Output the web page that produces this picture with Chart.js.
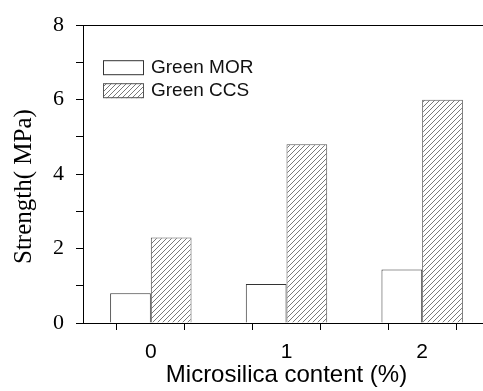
<!DOCTYPE html>
<html><head><meta charset="utf-8">
<script src="https://cdn.jsdelivr.net/npm/chart.js@4/dist/chart.umd.min.js"></script>
<style>html,body{margin:0;padding:0;overflow:hidden;background:#fff}#wrap{width:500px;height:391px;position:relative}</style>
</head><body><div id="wrap"><canvas id="c" width="500" height="391"></canvas></div>
<script>
const categories = ['0', '1', '2'];
const seriesNames = ['Green MOR', 'Green CCS'];
const greenMOR = [0.8, 1.05, 1.44];
const greenCCS = [2.3, 4.8, 6.0];
const yTickLabels = [0, 2, 4, 6, 8];
const xTitle = 'Microsilica content (%)';
const yTitle = 'Strength( MPa)    ';

const canvas = document.getElementById('c');
const ctx = canvas.getContext('2d');

function makeHatch() {
  const t = document.createElement('canvas');
  t.width = 5; t.height = 5;
  const g = t.getContext('2d');
  g.fillStyle = '#fff'; g.fillRect(0, 0, 5, 5);
  g.strokeStyle = '#6a6a6a'; g.lineWidth = 0.9;
  g.beginPath();
  g.moveTo(-1, 6); g.lineTo(6, -1);
  g.moveTo(-1, 1); g.lineTo(1, -1);
  g.moveTo(4, 6); g.lineTo(6, 4);
  g.stroke();
  return ctx.createPattern(t, 'repeat');
}
const hatch = makeHatch();

const frameAndLegend = {
  id: 'frameAndLegend',
  afterDraw(chart) {
    const c = chart.ctx, a = chart.chartArea;
    // top frame line
    c.save();
    c.strokeStyle = '#000'; c.lineWidth = 1;
    c.beginPath();
    c.moveTo(a.left, Math.round(a.top) + 0.5);
    c.lineTo(a.right, Math.round(a.top) + 0.5);
    c.stroke();
    c.restore();
    // inline legend
    const x0 = a.left + 20, y0 = a.top + 35;
    chart.data.datasets.forEach((ds, i) => {
      const y = y0 + i * 23;
      c.save();
      c.fillStyle = ds.backgroundColor;
      c.fillRect(x0, y, 41, 15);
      c.strokeStyle = ds.borderColor; c.lineWidth = 1;
      c.strokeRect(x0 + 0.5, y + 0.5, 40, 14);
      c.fillStyle = '#111';
      c.font = '19px "Liberation Sans"';
      c.textBaseline = 'middle';
      c.fillText(ds.label, x0 + 48, y + 8);
      c.restore();
    });
  }
};

new Chart(ctx, {
  type: 'bar',
  data: {
    datasets: [
      { label: seriesNames[0], data: categories.map((c, i) => ({ x: i, y: greenMOR[i] })),
        backgroundColor: '#ffffff', borderColor: '#333', borderWidth: 1 },
      { label: seriesNames[1], data: categories.map((c, i) => ({ x: i, y: greenCCS[i] })),
        backgroundColor: hatch, borderColor: '#555', borderWidth: 1 }
    ]
  },
  plugins: [frameAndLegend],
  options: {
    responsive: false,
    devicePixelRatio: 1,
    animation: false,
    layout: { padding: { top: 22, right: 8, bottom: 0, left: 0 } },
    datasets: { bar: { categoryPercentage: 1.2, barPercentage: 1.0 } },
    plugins: { legend: { display: false }, tooltip: { enabled: false } },
    scales: {
      x: {
        type: 'linear', position: 'bottom', min: -0.5, max: 2.5, offset: false,
        ticks: { stepSize: 0.5, autoSkip: false, maxRotation: 0,
          callback: v => Number.isInteger(v) ? categories[v] : '',
          font: { family: 'Liberation Sans', size: 21 }, color: '#000', padding: 10 },
        grid: { drawOnChartArea: false, drawTicks: true, tickLength: 7, color: '#000' },
        border: { display: true, color: '#000', width: 1 },
        title: { display: true, text: xTitle, color: '#000',
          font: { family: 'Liberation Sans', size: 24 }, padding: { top: 0, bottom: 1 } },
        afterFit: s => { s.height = 68; }
      },
      y: {
        min: 0, max: 8,
        ticks: { stepSize: 1, autoSkip: false,
          callback: v => yTickLabels.includes(v) ? String(v) : '',
          font: { family: 'Liberation Serif', size: 22 }, color: '#000', padding: 12 },
        grid: { drawOnChartArea: false, tickLength: 7, color: '#000' },
        border: { display: true, color: '#000', width: 1 },
        title: { display: true, text: yTitle, color: '#000',
          font: { family: 'Liberation Serif', size: 25 }, padding: { top: 9, bottom: 0 } },
        afterFit: s => { s.width = 83; }
      }
    }
  }
});
</script>
</body></html>
